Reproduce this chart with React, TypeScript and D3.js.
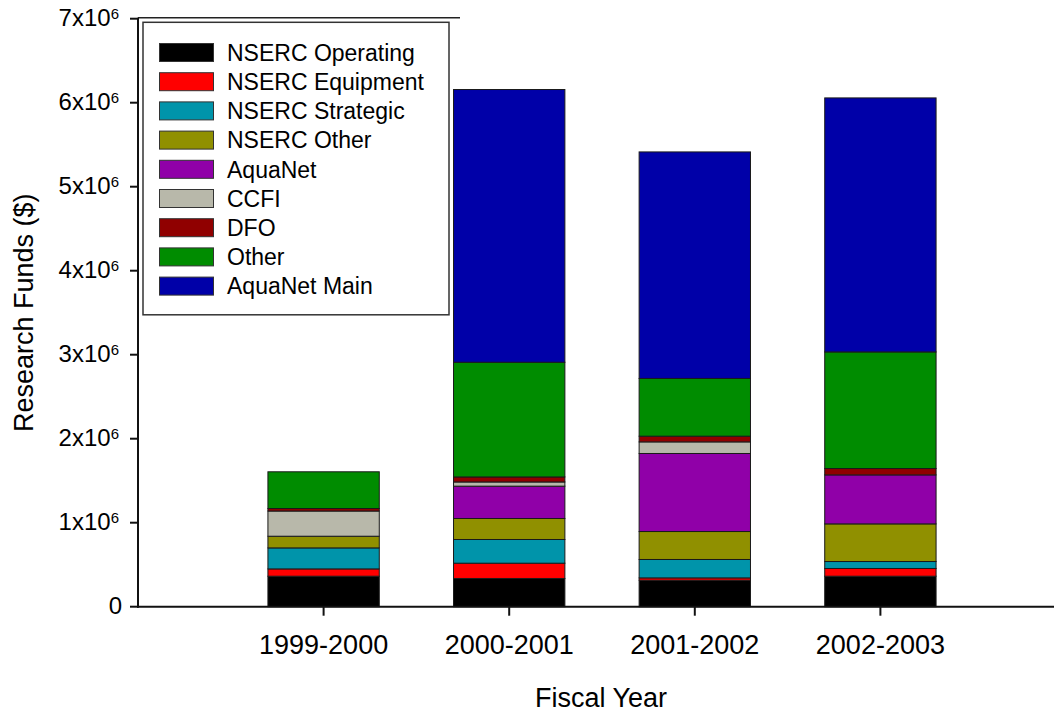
import React from 'react'
import * as d3 from 'd3'

// fiscal years on the x axis
const YEARS = ['1999-2000', '2000-2001', '2001-2002', '2002-2003']

// stacked series, bottom to top (dollars)
const SERIES = [
  'NSERC Operating', 'NSERC Equipment', 'NSERC Strategic', 'NSERC Other',
  'AquaNet', 'CCFI', 'DFO', 'Other', 'AquaNet Main'
]
const COLORS = [
  '#000000', '#ff0000', '#0094aa', '#909000',
  '#9000a8', '#b8b8aa', '#900000', '#008c00', '#0000a8'
]

const nsercOperating = [363000, 336000, 315000, 363000]
const nsercEquipment = [87000, 182000, 28000, 92000]
const nsercStrategic = [250000, 282000, 219000, 83000]
const nsercOther = [139000, 250000, 333000, 448000]
const aquaNet = [0, 385000, 929000, 583000]
const ccfi = [300000, 50000, 138000, 0]
const dfo = [30000, 60000, 68000, 76000]
const other = [437000, 1365000, 687000, 1388000]
const aquaNetMain = [0, 3247000, 2697000, 3024000]

const Y_TICKS = [0, 1, 2, 3, 4, 5, 6, 7]

const W = 1054
const H = 713
const FONT = '"Liberation Sans", Arial, sans-serif'

export default function App() {
  const values = [
    nsercOperating, nsercEquipment, nsercStrategic, nsercOther,
    aquaNet, ccfi, dfo, other, aquaNetMain
  ]
  const rows = YEARS.map((year, i) => {
    const r: Record<string, any> = { year }
    SERIES.forEach((s, j) => { r[s] = values[j][i] })
    return r
  })
  const stacked = d3.stack<any>().keys(SERIES)(rows)

  // x: categories sit at 1..4 on a 0..5 linear axis
  const x = d3.scaleLinear().domain([0, 5]).range([138, 1066])
  const y = d3.scaleLinear().domain([0, 7e6]).range([606.7, 18.7])
  const step = x(1) - x(0)
  const barW = step * 0.6

  const legendX = 143
  const legendY = 22.3
  const rowH = 29.2

  return (
    <div style={{ position: 'fixed', left: 0, top: 0 }}>
      <svg width={W} height={H} style={{ display: 'block', background: '#fff' }} fontFamily={FONT}>
        {/* bars */}
        {stacked.map((layer, j) => (
          <g key={SERIES[j]} fill={COLORS[j]}>
            {layer.map((d, i) => {
              const h = y(d[0]) - y(d[1])
              if (h <= 0) return null
              return (
                <rect key={i} x={x(i + 1) - barW / 2} y={y(d[1])} width={barW} height={h}
                  stroke="#1a1a1a" strokeWidth={1} />
              )
            })}
          </g>
        ))}

        {/* frame line above the legend */}
        <line x1={138} x2={460} y1={y(7e6) - 1} y2={y(7e6) - 1} stroke="#222" strokeWidth={1.5} />

        {/* y axis */}
        <line x1={138} x2={138} y1={y(7e6) - 1} y2={y(0) + 1} stroke="#111" strokeWidth={2} />
        {Y_TICKS.map(t => (
          <g key={t} transform={`translate(0,${y(t * 1e6)})`}>
            <line x1={130} x2={138} stroke="#111" strokeWidth={2} />
            {t === 0 ? (
              <text x={122} y={7.5} textAnchor="end" fontSize={24} fill="#000">0</text>
            ) : (
              <text x={119} y={7.5} textAnchor="end" fontSize={24} fill="#000">
                {t}x10<tspan fontSize={15} dy={-7}>6</tspan>
              </text>
            )}
          </g>
        ))}

        {/* x axis */}
        <line x1={137} x2={W} y1={y(0)} y2={y(0)} stroke="#111" strokeWidth={2} />
        {YEARS.map((yr, i) => (
          <g key={yr} transform={`translate(${x(i + 1)},${y(0)})`}>
            <line y1={0} y2={9} stroke="#111" strokeWidth={2} />
            <text y={47.5} textAnchor="middle" fontSize={27} fill="#000">{yr}</text>
          </g>
        ))}

        {/* axis titles */}
        <text x={601} y={706.5} textAnchor="middle" fontSize={27} fill="#000">Fiscal Year</text>
        <text transform={`translate(32.5,${(y(0) + y(7e6)) / 2}) rotate(-90)`} textAnchor="middle"
          fontSize={27} fill="#000">Research Funds ($)</text>

        {/* legend */}
        <rect x={legendX} y={legendY} width={306} height={292.5} fill="#fff" stroke="#333" strokeWidth={1.5} />
        {SERIES.map((s, j) => {
          const cy = 52.5 + j * rowH
          return (
            <g key={s}>
              <rect x={159.5} y={cy - 9} width={54} height={18} fill={COLORS[j]} stroke="#333" strokeWidth={1} />
              <text x={227} y={cy + 8.3} fontSize={23} fill="#000">{s}</text>
            </g>
          )
        })}
      </svg>
    </div>
  )
}
